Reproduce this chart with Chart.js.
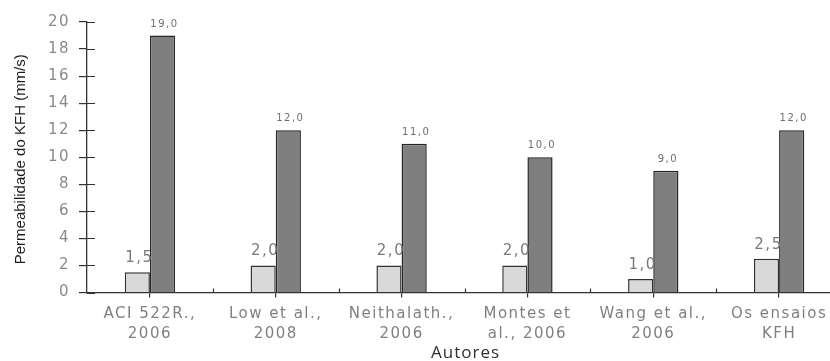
<!DOCTYPE html>
<html>
<head>
<meta charset="utf-8">
<script src="https://cdn.jsdelivr.net/npm/chart.js@4"></script>
<style>
  html, body { margin: 0; padding: 0; background: #fff; overflow: hidden; }
  #wrap { width: 842px; height: 361px; position: relative; }
</style>
</head>
<body>
<div id="wrap"><canvas id="chart"></canvas></div>
<script>
// categories and values
const authors = [
  ["ACI 522R.,", "2006"],
  ["Low et al.,", "2008"],
  ["Neithalath.,", "2006"],
  ["Montes et", "al., 2006"],
  ["Wang et al.,", "2006"],
  ["Os ensaios", "KFH"]
];
const minValues = [1.5, 2.0, 2.0, 2.0, 1.0, 2.5];
const maxValues = [19.0, 12.0, 11.0, 10.0, 9.0, 12.0];
const yTicks = [0, 2, 4, 6, 8, 10, 12, 14, 16, 18, 20];
const xTitle = "Autores";
const yTitle = "Permeabilidade do KFH (mm/s)";

const fmt = (v) => v.toFixed(1).replace(".", ",");

// wider letter spacing for all the axis text
const spacing = {
  id: "spacing",
  beforeDraw(chart) {
    chart.ctx.letterSpacing = "1.5px";
  },
  afterDraw(chart) {
    chart.ctx.letterSpacing = "0px";
  }
};

// value labels above the bars, axis titles, plus the small marks around the axes
const barLabels = {
  id: "barLabels",
  afterDatasetsDraw(chart) {
    const ctx = chart.ctx;
    ctx.save();
    ctx.textAlign = "center";
    ctx.textBaseline = "alphabetic";
    chart.data.datasets.forEach((ds, i) => {
      const meta = chart.getDatasetMeta(i);
      meta.data.forEach((bar, j) => {
        const v = ds.data[j];
        if (i === 0) {
          ctx.font = "15px 'DejaVu Sans'";
          ctx.fillStyle = "#7a7a7a";
          ctx.fillText(fmt(v), bar.x + 2, bar.y - 10);
        } else {
          ctx.font = "10px 'DejaVu Sans'";
          ctx.fillStyle = "#6e6e6e";
          ctx.fillText(fmt(v), bar.x + 2, bar.y - 9);
        }
      });
    });
    const x = chart.scales.x, y = chart.scales.y;
    const area = chart.chartArea;
    ctx.strokeStyle = "#333";
    ctx.lineWidth = 1.2;
    ctx.beginPath();
    // inner half of y ticks
    yTicks.forEach((t) => {
      const py = Math.round(y.getPixelForValue(t)) + 0.5;
      ctx.moveTo(area.left, py);
      ctx.lineTo(area.left + 8, py);
    });
    // small marks between categories
    for (let k = 1; k < authors.length; k++) {
      const px = Math.round((x.getPixelForValue(k - 1) + x.getPixelForValue(k)) / 2) + 0.5;
      ctx.moveTo(px, area.bottom);
      ctx.lineTo(px, area.bottom - 4);
    }
    ctx.stroke();

    // x axis title
    ctx.textBaseline = "middle";
    ctx.letterSpacing = "1px";
    ctx.font = "17px 'Open Sans'";
    ctx.fillStyle = "#2e2e2e";
    ctx.fillText(xTitle, (area.left + area.right) / 2 + 1, 353);

    // y axis title
    ctx.letterSpacing = "0px";
    ctx.translate(21, (area.top + area.bottom) / 2 + 2);
    ctx.rotate(-Math.PI / 2);
    ctx.font = "15px 'Liberation Sans'";
    ctx.fillStyle = "#1e1e1e";
    ctx.fillText(yTitle, 0, 0);
    ctx.restore();
  }
};

new Chart(document.getElementById("chart"), {
  type: "bar",
  data: {
    labels: authors,
    datasets: [
      {
        data: minValues,
        backgroundColor: "#d9d9d9",
        borderColor: "#333",
        borderWidth: 1.5,
        barPercentage: 1,
        categoryPercentage: 0.4
      },
      {
        data: maxValues,
        backgroundColor: "#7f7f7f",
        borderColor: "#262626",
        borderWidth: 1.5,
        barPercentage: 1,
        categoryPercentage: 0.4
      }
    ]
  },
  options: {
    responsive: true,
    maintainAspectRatio: false,
    animation: false,
    layout: { padding: { top: 22, right: 0, left: 0, bottom: 11 } },
    plugins: {
      legend: { display: false },
      tooltip: { enabled: false }
    },
    scales: {
      x: {
        grid: {
          offset: false,
          drawOnChartArea: false,
          tickLength: 5,
          color: "#333",
          lineWidth: 1.2
        },
        border: { color: "#333", width: 1.3 },
        ticks: {
          color: "#808080",
          font: { family: "DejaVu Sans", size: 15, lineHeight: 1.35 },
          padding: 6,
          maxRotation: 0,
          autoSkip: false
        }
      },
      y: {
        min: 0,
        max: 20,
        afterBuildTicks(scale) {
          scale.ticks = yTicks.map((v) => ({ value: v }));
        },
        afterFit(scale) {
          scale.width = 87;
        },
        grid: {
          drawOnChartArea: false,
          tickLength: 8,
          color: "#333",
          lineWidth: 1.2
        },
        border: { color: "#333", width: 1.3 },
        ticks: {
          color: "#8a8a8a",
          font: { family: "DejaVu Sans", size: 15 },
          padding: 9
        }
      }
    }
  },
  plugins: [spacing, barLabels]
});
</script>
</body>
</html>
